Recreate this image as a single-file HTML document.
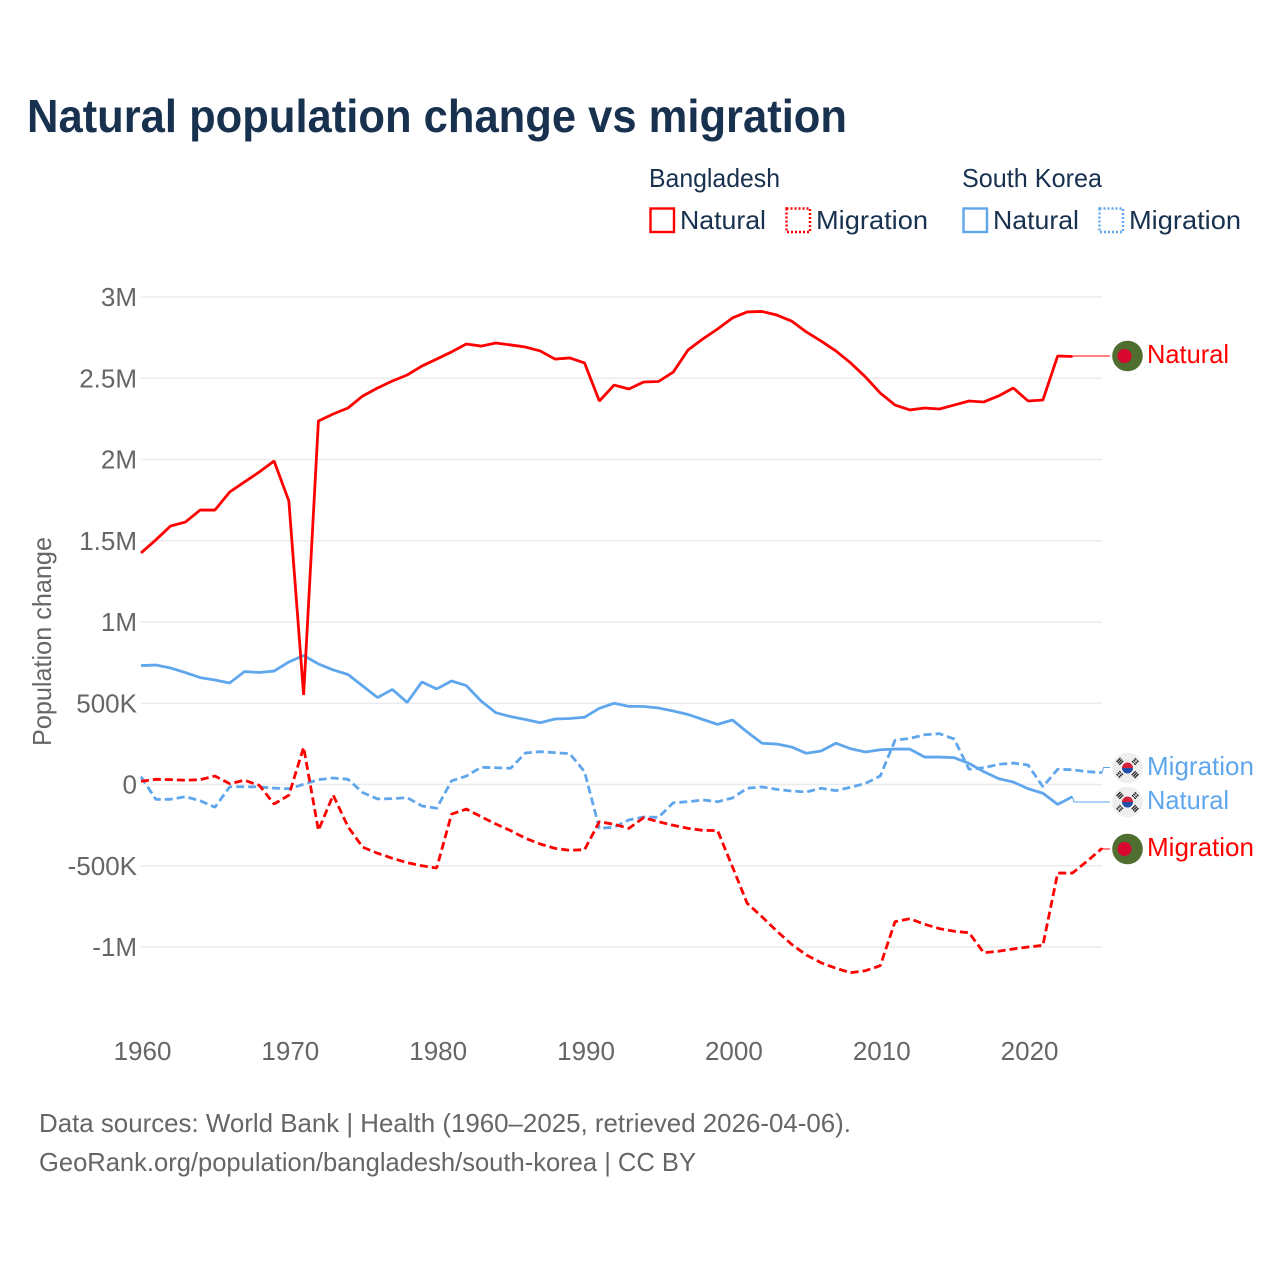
<!DOCTYPE html>
<html lang="en">
<head>
<meta charset="utf-8">
<title>Natural population change vs migration</title>
<style>
  html, body { margin: 0; padding: 0; background: #fff; }
  svg { display: block; font-family: "Liberation Sans", sans-serif; }
</style>
</head>
<body>
<svg id="chart" xmlns="http://www.w3.org/2000/svg" width="1280" height="1280" viewBox="0 0 1280 1280">
  <defs>
    <g id="flag-bd">
      <circle r="15.3" fill="#4f6e30"/>
      <circle cx="-3" r="7" fill="#d9062f"/>
    </g>
    <g id="flag-kr">
      <circle r="15.3" fill="#eeeeee"/>
      <path d="M-5.5 0A5.5 5.5 0 0 1 5.5 0Z" fill="#d5223c"/>
      <path d="M-5.5 0A5.5 5.5 0 0 0 5.5 0Z" fill="#1f4fa8"/>
      <g stroke="#222" stroke-width="1.3" fill="none">
        <path d="M-11 -6L-7 -10M-9.6 -4.6L-5.6 -8.6M-8.2 -3.2L-4.2 -7.2"/>
        <path d="M11 -6L7 -10M9.6 -4.6L5.6 -8.6M8.2 -3.2L4.2 -7.2" stroke-dasharray="2.2 .8"/>
        <path d="M-11 6L-7 10M-9.6 4.6L-5.6 8.6M-8.2 3.2L-4.2 7.2" stroke-dasharray="2.2 .8"/>
        <path d="M11 6L7 10M9.6 4.6L5.6 8.6M8.2 3.2L4.2 7.2"/>
      </g>
    </g>
  </defs>

  <text x="27" y="132" font-size="46" font-weight="700" fill="#17314f" textLength="820" lengthAdjust="spacingAndGlyphs">Natural population change vs migration</text>

  <g font-size="26" fill="#17314f">
    <text x="649" y="187" textLength="131" lengthAdjust="spacingAndGlyphs">Bangladesh</text>
    <text x="962" y="187" textLength="140" lengthAdjust="spacingAndGlyphs">South Korea</text>
    <g>
      <rect x="650.5" y="208.5" width="23.5" height="23.5" fill="none" stroke="#ff0000" stroke-width="2.4"/>
      <text x="680" y="229" textLength="86" lengthAdjust="spacingAndGlyphs">Natural</text>
    </g>
    <g>
      <rect x="786.5" y="208.5" width="23.5" height="23.5" fill="none" stroke="#ff0000" stroke-width="2.4" stroke-dasharray="2 2"/>
      <text x="816" y="229" textLength="112" lengthAdjust="spacingAndGlyphs">Migration</text>
    </g>
    <g>
      <rect x="963.5" y="208.5" width="23.5" height="23.5" fill="none" stroke="#60a6ec" stroke-width="2.4"/>
      <text x="993" y="229" textLength="86" lengthAdjust="spacingAndGlyphs">Natural</text>
    </g>
    <g>
      <rect x="1099.5" y="208.5" width="23.5" height="23.5" fill="none" stroke="#60a6ec" stroke-width="2.4" stroke-dasharray="2 2"/>
      <text x="1129" y="229" textLength="112" lengthAdjust="spacingAndGlyphs">Migration</text>
    </g>
  </g>

  <g id="grid"></g>
  <g id="y-ticks" font-size="26" fill="#666666" text-anchor="end"></g>
  <g id="x-ticks" font-size="26" fill="#666666" text-anchor="middle"></g>

  <text transform="translate(51 746) rotate(-90)" font-size="26" fill="#666666" textLength="209" lengthAdjust="spacingAndGlyphs">Population change</text>

  <g id="series"></g>

  <g font-size="26">
    <g>
      <use href="#flag-bd" x="1127.5" y="356"/>
      <text x="1147" y="363" fill="#ff0000" textLength="82" lengthAdjust="spacingAndGlyphs">Natural</text>
    </g>
    <g>
      <use href="#flag-kr" x="1127.5" y="768"/>
      <text x="1147" y="775" fill="#60a6ec" textLength="107" lengthAdjust="spacingAndGlyphs">Migration</text>
    </g>
    <g>
      <use href="#flag-kr" x="1127.5" y="802"/>
      <text x="1147" y="809" fill="#60a6ec" textLength="82" lengthAdjust="spacingAndGlyphs">Natural</text>
    </g>
    <g>
      <use href="#flag-bd" x="1127.5" y="849"/>
      <text x="1147" y="856" fill="#ff0000" textLength="107" lengthAdjust="spacingAndGlyphs">Migration</text>
    </g>
  </g>

  <g font-size="26" fill="#666666">
    <text x="39" y="1132" textLength="812" lengthAdjust="spacingAndGlyphs">Data sources: World Bank | Health (1960–2025, retrieved 2026-04-06).</text>
    <text x="39" y="1171" textLength="657" lengthAdjust="spacingAndGlyphs">GeoRank.org/population/bangladesh/south-korea | CC BY</text>
  </g>
</svg>

<script>
// Values in thousands of people per year, starting 1960.
const startYear = 1960;
const xTickYears = [1960, 1970, 1980, 1990, 2000, 2010, 2020];
const yTickValues = [3000, 2500, 2000, 1500, 1000, 500, 0, -500, -1000];
const yTickLabels = ["3M", "2.5M", "2M", "1.5M", "1M", "500K", "0", "-500K", "-1M"];

const bangladeshNatural = [
  1425,1505,1591,1615,1689,1689,1800,1862,1923,1991,
  1745,551,2237,2280,2317,2391,2440,2483,2520,2575,
  2618,2662,2711,2698,2717,2705,2692,2668,2618,2625,
  2594,2360,2458,2434,2477,2480,2538,2674,2742,2803,
  2871,2908,2911,2889,2852,2785,2729,2668,2594,2508,
  2409,2335,2305,2317,2311,2335,2360,2354,2391,2440,
  2360,2366,2637,2634];
const bangladeshMigration = [
  20,32,30,26,30,52,5,26,-5,-120,
  -66,229,-282,-65,-260,-386,-423,-454,-481,-500,
  -514,-183,-151,-198,-243,-284,-331,-366,-393,-405,
  -401,-229,-245,-270,-204,-229,-251,-270,-282,-284,
  -506,-731,-814,-902,-983,-1049,-1097,-1131,-1158,-1146,
  -1115,-844,-826,-860,-887,-903,-912,-1035,-1026,-1012,
  -1000,-990,-545,-545,-471,-393];
const southKoreaNatural = [
  732,735,717,689,658,643,625,695,689,698,
  754,794,742,705,677,606,535,585,505,631,
  588,637,609,514,442,418,400,380,403,406,
  414,469,500,481,480,471,452,431,400,370,
  397,323,254,249,231,192,206,254,220,200,
  214,218,218,169,169,165,130,79,36,15,
  -26,-54,-122,-75];
const southKoreaMigration = [
  48,-91,-91,-75,-100,-140,-14,-14,-15,-22,
  -26,1,30,40,32,-50,-89,-87,-81,-132,
  -146,22,52,106,103,100,194,202,196,190,
  79,-270,-263,-218,-200,-202,-112,-106,-95,-106,
  -83,-23,-15,-30,-40,-46,-23,-38,-17,7,
  52,272,284,306,313,280,94,103,124,132,
  120,-14,94,91,79,73];

const NS = "http://www.w3.org/2000/svg";
const xScale = function (year) { return 141 + (year - 1960) * 14.785; };
const yScale = function (v) { return 784.5 - v * 0.1625; };

const gridG = document.getElementById("grid");
const yG = document.getElementById("y-ticks");
const xG = document.getElementById("x-ticks");
const seriesG = document.getElementById("series");

yTickValues.forEach(function (v, i) {
  const line = document.createElementNS(NS, "line");
  
  
  line.setAttribute("x1", xScale(1960));
  line.setAttribute("x2", xScale(2025));
  line.setAttribute("y1", yScale(v));
  line.setAttribute("y2", yScale(v));
  line.setAttribute("stroke", "#ebebeb");
  line.setAttribute("stroke-width", "1.4");
  gridG.appendChild(line);

  const t = document.createElementNS(NS, "text");
  
  
  t.setAttribute("x", 137);
  t.setAttribute("y", yScale(v) + 9);
  t.textContent = yTickLabels[i];
  yG.appendChild(t);
});

xTickYears.forEach(function (yr) {
  const t = document.createElementNS(NS, "text");
  
  
  t.setAttribute("x", xScale(yr) + 1.5);
  t.setAttribute("y", 1060);
  t.textContent = yr;
  xG.appendChild(t);
});

function drawSeries(values, color, dashed, labelY, name) {
  const d = values.map(function (v, i) {
    return (i ? "L" : "M") + xScale(startYear + i).toFixed(2) + " " + yScale(v).toFixed(2);
  }).join("");
  const p = document.createElementNS(NS, "path");
  
  
  p.setAttribute("d", d);
  p.setAttribute("fill", "none");
  p.setAttribute("stroke", color);
  p.setAttribute("stroke-width", "2.8");
  p.setAttribute("stroke-linejoin", "bevel");
  if (dashed) p.setAttribute("stroke-dasharray", "8 4");
  seriesG.appendChild(p);

  const last = values.length - 1;
  const lx = xScale(startYear + last);
  const ly = yScale(values[last]);
  const c = document.createElementNS(NS, "path");
  
  
  c.setAttribute("d", "M" + lx + " " + ly + "L" + (lx + 1.5) + " " + labelY + "L1110 " + labelY);
  c.setAttribute("fill", "none");
  c.setAttribute("stroke", color);
  c.setAttribute("stroke-width", "1");
  seriesG.appendChild(c);
}

drawSeries(southKoreaMigration, "#60a6ec", true, 767.5, "south-korea-migration-line");
drawSeries(southKoreaNatural, "#60a6ec", false, 802, "south-korea-natural-line");
drawSeries(bangladeshMigration, "#ff0000", true, 849, "bangladesh-migration-line");
drawSeries(bangladeshNatural, "#ff0000", false, 356, "bangladesh-natural-line");
</script>
</body>
</html>
